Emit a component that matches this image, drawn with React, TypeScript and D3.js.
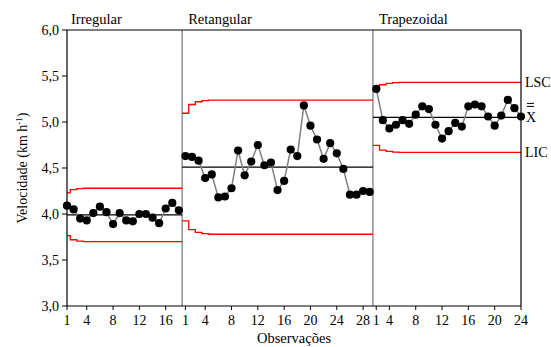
import React from "react";
import * as d3 from "d3";

const W = 551;
const H = 347;

// Velocidade por observação em cada tipo de parcela
const panelNames = ["Irregular", "Retangular", "Trapezoidal"];

const irregular = [
  4.09, 4.05, 3.95, 3.93, 4.01, 4.08, 4.02, 3.89, 4.01, 3.93, 3.92, 4.0, 4.0,
  3.96, 3.9, 4.06, 4.12, 4.04,
];
const retangular = [
  4.63, 4.62, 4.58, 4.39, 4.43, 4.18, 4.19, 4.28, 4.69, 4.42, 4.57, 4.75,
  4.53, 4.56, 4.26, 4.36, 4.7, 4.63, 5.18, 4.96, 4.81, 4.6, 4.77, 4.66, 4.49,
  4.21, 4.21, 4.25, 4.24,
];
const trapezoidal = [
  5.36, 5.02, 4.93, 4.97, 5.02, 4.98, 5.08, 5.17, 5.14, 4.97, 4.82, 4.9, 4.99,
  4.95, 5.17, 5.19, 5.17, 5.06, 4.96, 5.07, 5.24, 5.15, 5.06,
];

// Linha central e limites de controle (LSC / LIC), um degrau por observação
const centerLines = [3.99, 4.51, 5.05];
const irregularUcl = [4.23, 4.265, 4.275, 4.28];
const irregularLcl = [3.765, 3.72, 3.705, 3.7];
const retangularUcl = [5.095, 5.19, 5.22, 5.233, 5.238];
const retangularLcl = [3.925, 3.83, 3.8, 3.787, 3.78];
const trapezoidalUcl = [5.36, 5.405, 5.42, 5.427, 5.43];
const trapezoidalLcl = [4.745, 4.695, 4.68, 4.673, 4.67];

// Rótulos do eixo X: observação onde fica o rótulo e o texto
const irregularTickObs = [1, 4, 8, 12, 16];
const irregularTickLabels = ["1", "4", "8", "12", "16"];
const retangularTickObs = [1, 4, 8, 12, 16, 20, 24, 28];
const retangularTickLabels = ["1", "4", "8", "12", "16", "20", "24", "28"];
const trapezoidalTickObs = [1, 3, 7, 11, 15, 19, 23];
const trapezoidalTickLabels = ["1", "4", "8", "12", "16", "20", "24"];

const yTicks = [3.0, 3.5, 4.0, 4.5, 5.0, 5.5, 6.0];

const series = [irregular, retangular, trapezoidal];
const ucls = [irregularUcl, retangularUcl, trapezoidalUcl];
const lcls = [irregularLcl, retangularLcl, trapezoidalLcl];
const tickObs = [irregularTickObs, retangularTickObs, trapezoidalTickObs];
const tickLabels = [irregularTickLabels, retangularTickLabels, trapezoidalTickLabels];

const FONT = "'Liberation Serif', 'Times New Roman', serif";
const txt = { fontFamily: FONT };

export default function App() {
  const left = 67;
  const right = 521;
  const top = 30;
  const bottom = 306;

  // posição global de cada observação ao longo do eixo
  const offsets: number[] = [];
  let acc = 0;
  series.forEach((s) => {
    offsets.push(acc);
    acc += s.length;
  });
  const total = acc;

  const x = d3.scaleLinear().domain([1, total]).range([left, right]).clamp(true);
  const y = d3.scaleLinear().domain([3, 6]).range([bottom, top]);

  const dataLine = d3
    .line<[number, number]>()
    .x((d) => x(d[0]))
    .y((d) => y(d[1]));

  const dividers = offsets.slice(1).map((o) => o + 0.5);

  const stepPath = (steps: number[], offset: number, n: number) => {
    const pts: [number, number][] = [];
    for (let i = 0; i < n; i++) {
      const v = steps[Math.min(i, steps.length - 1)];
      const g = offset + i + 1;
      pts.push([g - 0.5, v], [g + 0.5, v]);
    }
    return dataLine(pts) || "";
  };

  const lastUcl = trapezoidalUcl[trapezoidalUcl.length - 1];
  const lastLcl = trapezoidalLcl[trapezoidalLcl.length - 1];
  const lastCenter = centerLines[2];

  return (
    <svg
      width={W}
      height={H}
      style={{ position: "absolute", left: 0, top: 0, background: "#fff", fontFamily: FONT }}
    >
      <rect width={W} height={H} fill="#fff" />

      {/* divisórias entre parcelas */}
      {dividers.map((g, i) => (
        <line
          key={"div" + i}
          x1={x(g)}
          x2={x(g)}
          y1={top}
          y2={bottom}
          stroke="#7f7f7f"
          strokeWidth={1.3}
        />
      ))}

      {/* limites de controle e linha central */}
      {series.map((s, p) => (
        <g key={"lim" + p}>
          <path
            d={stepPath(ucls[p], offsets[p], s.length)}
            fill="none"
            stroke="#ff0000"
            strokeWidth={1.3}
          />
          <path
            d={stepPath(lcls[p], offsets[p], s.length)}
            fill="none"
            stroke="#ff0000"
            strokeWidth={1.3}
          />
          <line
            x1={x(offsets[p] + 0.5)}
            x2={x(offsets[p] + s.length + 0.5)}
            y1={y(centerLines[p])}
            y2={y(centerLines[p])}
            stroke="#000"
            strokeWidth={1.2}
          />
        </g>
      ))}

      {/* observações */}
      {series.map((s, p) => {
        const pts = s.map((v, i) => [offsets[p] + i + 1, v] as [number, number]);
        return (
          <g key={"ser" + p}>
            <path d={dataLine(pts) || ""} fill="none" stroke="#808080" strokeWidth={1.5} />
            {pts.map((d, i) => (
              <circle key={i} cx={x(d[0])} cy={y(d[1])} r={4.1} fill="#000" />
            ))}
          </g>
        );
      })}

      {/* moldura */}
      <line x1={left} x2={right} y1={top} y2={top} stroke="#000" strokeWidth={1.2} />
      <line x1={right} x2={right} y1={top} y2={bottom} stroke="#000" strokeWidth={1.2} />
      <line x1={left} x2={right} y1={bottom} y2={bottom} stroke="#000" strokeWidth={1.2} />
      <line x1={left} x2={left} y1={top} y2={bottom} stroke="#000" strokeWidth={1.2} />

      {/* eixo Y */}
      {yTicks.map((t) => (
        <g key={"yt" + t}>
          <line x1={left - 5} x2={left} y1={y(t)} y2={y(t)} stroke="#000" strokeWidth={1} />
          <text
            x={left - 8}
            y={y(t)}
            dy="0.35em"
            textAnchor="end"
            fontSize={14}
            fill="#000"
            style={txt}
          >
            {d3.format(".1f")(t).replace(".", ",")}
          </text>
        </g>
      ))}

      {/* eixo X */}
      {series.map((s, p) =>
        tickObs[p].map((o, i) => {
          const g = offsets[p] + o;
          return (
            <g key={"xt" + p + "-" + i}>
              <line x1={x(g)} x2={x(g)} y1={bottom} y2={bottom + 4} stroke="#000" strokeWidth={1} />
              <text x={x(g)} y={bottom + 19} textAnchor="middle" fontSize={14} fill="#000" style={txt}>
                {tickLabels[p][i]}
              </text>
            </g>
          );
        })
      )}

      {/* nomes das parcelas */}
      {panelNames.map((n, p) => (
        <text
          key={"pn" + p}
          x={p === 0 ? left + 4 : x(offsets[p] + 0.5) + 6}
          y={24}
          fontSize={14.5}
          fill="#000"
          style={txt}
        >
          {n}
        </text>
      ))}

      {/* rótulos dos limites */}
      <text x={right + 4} y={y(lastUcl) + 5} fontSize={14} fill="#000" style={txt}>
        LSC
      </text>
      <text x={right + 5} y={y(lastCenter) + 5} fontSize={14} fill="#000" style={txt}>
        X
      </text>
      <line x1={right + 6} x2={right + 13} y1={y(lastCenter) - 14} y2={y(lastCenter) - 14} stroke="#000" strokeWidth={1} />
      <line x1={right + 6} x2={right + 13} y1={y(lastCenter) - 11} y2={y(lastCenter) - 11} stroke="#000" strokeWidth={1} />
      <text x={right + 4} y={y(lastLcl) + 5} fontSize={14} fill="#000" style={txt}>
        LIC
      </text>

      {/* títulos dos eixos */}
      <text
        transform={`translate(27,${(top + bottom) / 2}) rotate(-90)`}
        textAnchor="middle"
        fontSize={14}
        fill="#000"
        style={txt}
      >
        Velocidade (km h
        <tspan fontSize={9} dy={-5}>-1</tspan>
        <tspan dy={5}>)</tspan>
      </text>
      <text x={(left + right) / 2} y={343} textAnchor="middle" fontSize={14.5} fill="#000" style={txt}>
        Observações
      </text>
    </svg>
  );
}
